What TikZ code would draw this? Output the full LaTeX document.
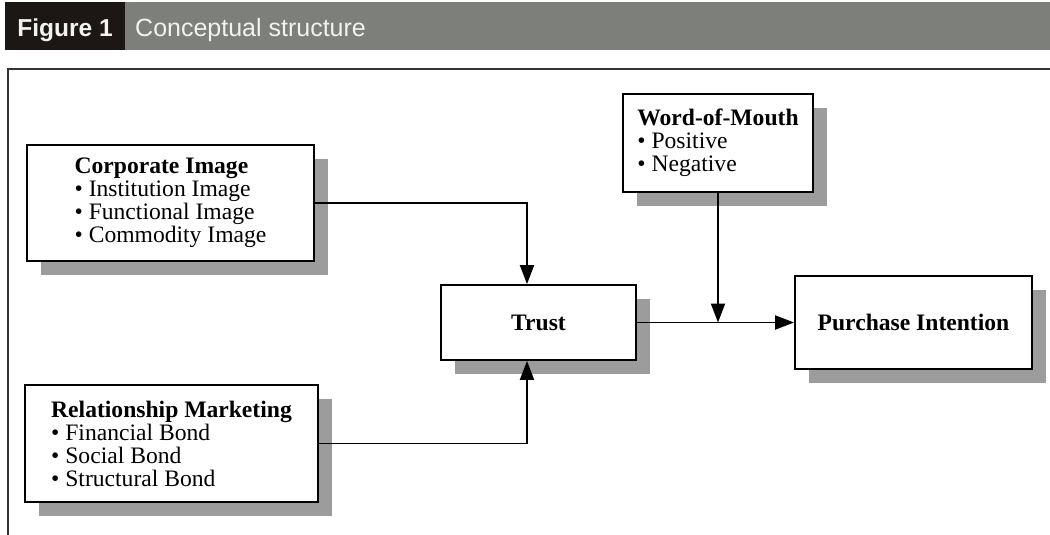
\documentclass[tikz,border=0pt]{standalone}
\usepackage{fontspec}
\setmainfont{Liberation Serif}
\newfontfamily\headfont{Liberation Sans}
\usetikzlibrary{arrows.meta,shadows}
\definecolor{headgray}{HTML}{7C7F7A}
\definecolor{headdark}{HTML}{1C1714}
\definecolor{headtext}{HTML}{F2F2F0}
\definecolor{shadowgray}{HTML}{9C9C9C}
\definecolor{framegray}{HTML}{333333}

\begin{document}
\begin{tikzpicture}[x=1pt,y=-1pt,
  concept/.style={draw=black, line width=1.8pt, fill=white, inner sep=0pt,
    align=left, font=\fontsize{23.6}{23}\selectfont,
    general shadow={fill=shadowgray, shadow xshift=14pt, shadow yshift=-14pt}},
  link/.style={line width=1.9pt, -{Triangle[length=19pt,width=14pt]}},
  headbar/.style={fill=headgray, draw=none},
  headtag/.style={fill=headdark, draw=none},
  frameline/.style={draw=framegray, line width=2.5pt}]

\useasboundingbox (0,0) rectangle (1050,535);

% caption bar
\fill[headbar] (125,2) rectangle (1050,50);
\fill[headtag] (5,2) rectangle (125,50);
\node[anchor=base, text=headtext, inner sep=0pt,
      font=\headfont\bfseries\fontsize{24.5}{24}\selectfont] (figno) at (65,37) {Figure 1};
\node[anchor=base west, text=headtext, inner sep=0pt,
      font=\headfont\fontsize{25}{25}\selectfont] (figtitle) at (135,37) {Conceptual structure};

% frame around the figure body
\draw[frameline] (8,535) -- (8,69) -- (1050,69);

% concept boxes
\node[concept, minimum width=287pt, minimum height=116pt] (ci) at (170.5,203)
  {\textbf{Corporate Image}\\ • Institution Image\\ • Functional Image\\ • Commodity Image};
\node[concept, minimum width=293pt, minimum height=117pt] (rm) at (171.5,443.5)
  {\textbf{Relationship Marketing}\\ • Financial Bond\\ • Social Bond\\ • Structural Bond};
\node[concept, minimum width=190pt, minimum height=98pt] (wom) at (718,143)
  {\textbf{Word-of-Mouth}\\ • Positive\\ • Negative};
\node[concept, minimum width=195pt, minimum height=75pt] (trust) at (538.5,322.5)
  {\textbf{Trust}};
\node[concept, minimum width=237pt, minimum height=93pt] (pi) at (913.5,322.5)
  {\textbf{Purchase Intention}};

% connectors
\coordinate (join) at (wom.south |- trust.east);
\draw[link] (ci.east) -| ([xshift=-11.5pt]trust.north);
\draw[link] (rm.east) -| ([xshift=-11.5pt]trust.south);
\draw[link] (trust.east) -- (pi.west);
\draw[link] (wom.south) -- (join);

\end{tikzpicture}
\end{document}
